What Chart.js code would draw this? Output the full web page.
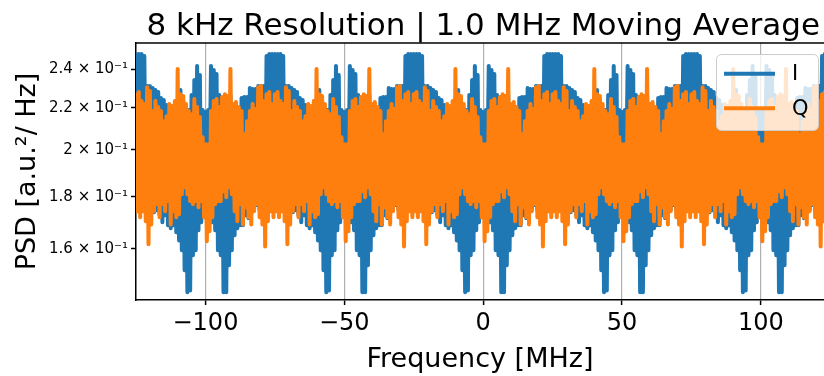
<!DOCTYPE html>
<html><head><meta charset="utf-8">
<script src="https://cdn.jsdelivr.net/npm/chart.js@4.4.1/dist/chart.umd.min.js"></script>
<style>html,body{margin:0;padding:0;background:#fff}canvas{display:block}</style>
</head><body>
<canvas id="c" width="824" height="376"></canvas>
<script>
const titleText = "8 kHz Resolution | 1.0 MHz Moving Average";
const xTitle = "Frequency [MHz]";
const yTitle = "PSD [a.u.²/ Hz]";
const seriesNames = ["I", "Q"];
const xTickValues = [-100, -50, 0, 50, 100];
const xTickLabels = ["−100", "−50", "0", "50", "100"];
const yTickValues = [0.16, 0.18, 0.20, 0.22, 0.24];
const yTickLabels = ["1.6 × 10⁻¹", "1.8 × 10⁻¹", "2 × 10⁻¹", "2.2 × 10⁻¹", "2.4 × 10⁻¹"];
const freqStartMHz = -125, freqStepMHz = 0.5;

const psdI = [
0.2483,0.1826,0.2483,0.1818,0.2483,0.1806,0.2471,0.1786,0.2310,0.1766,0.2310,0.1746,0.2299,0.1738,0.2289,0.1746,0.2279,0.1726,0.2248,0.1699,0.2238,0.1726,0.2213,0.1688,0.2188,0.1676,0.2178,0.1688,0.2198,0.1661,0.2238,0.1631,0.2289,0.1595,0.2238,0.1525,0.2163,0.1451,0.2188,0.1457,0.2263,0.1577,0.2341,0.1595,0.2416,0.1669,0.2368,0.1699,0.2188,0.1889,0.2178,0.1954,0.2188,0.1889,0.2416,0.1699,0.2395,0.1669,0.2373,0.1595,0.2263,0.1577,0.2188,0.1451,0.2163,0.1451,0.2238,0.1542,0.2263,0.1595,0.2213,0.1650,0.2188,0.1676,0.2198,0.1688,0.2248,0.1688,0.2253,0.1726,0.2253,0.1715,0.2299,0.1738,0.2294,0.1746,0.2294,0.1766,0.2310,0.1746,0.2310,0.1786,0.2310,0.1794,0.2471,0.1806,0.2483,0.1818,0.2483,0.1826,
0.2483,0.1826,0.2483,0.1818,0.2483,0.1806,0.2471,0.1786,0.2310,0.1766,0.2310,0.1746,0.2299,0.1738,0.2289,0.1746,0.2279,0.1726,0.2248,0.1699,0.2238,0.1726,0.2213,0.1688,0.2188,0.1676,0.2178,0.1688,0.2198,0.1661,0.2238,0.1631,0.2289,0.1595,0.2238,0.1525,0.2163,0.1451,0.2188,0.1457,0.2263,0.1577,0.2341,0.1595,0.2416,0.1669,0.2368,0.1699,0.2188,0.1889,0.2178,0.1954,0.2188,0.1889,0.2416,0.1699,0.2395,0.1669,0.2373,0.1595,0.2263,0.1577,0.2188,0.1451,0.2163,0.1451,0.2238,0.1542,0.2263,0.1595,0.2213,0.1650,0.2188,0.1676,0.2198,0.1688,0.2248,0.1688,0.2253,0.1726,0.2253,0.1715,0.2299,0.1738,0.2294,0.1746,0.2294,0.1766,0.2310,0.1746,0.2310,0.1786,0.2310,0.1794,0.2471,0.1806,0.2483,0.1818,0.2483,0.1826,
0.2483,0.1826,0.2483,0.1818,0.2483,0.1806,0.2471,0.1786,0.2310,0.1766,0.2310,0.1746,0.2299,0.1738,0.2289,0.1746,0.2279,0.1726,0.2248,0.1699,0.2238,0.1726,0.2213,0.1688,0.2188,0.1676,0.2178,0.1688,0.2198,0.1661,0.2238,0.1631,0.2289,0.1595,0.2238,0.1525,0.2163,0.1451,0.2188,0.1457,0.2263,0.1577,0.2341,0.1595,0.2416,0.1669,0.2368,0.1699,0.2188,0.1889,0.2178,0.1954,0.2188,0.1889,0.2416,0.1699,0.2395,0.1669,0.2373,0.1595,0.2263,0.1577,0.2188,0.1451,0.2163,0.1451,0.2238,0.1542,0.2263,0.1595,0.2213,0.1650,0.2188,0.1676,0.2198,0.1688,0.2248,0.1688,0.2253,0.1726,0.2253,0.1715,0.2299,0.1738,0.2294,0.1746,0.2294,0.1766,0.2310,0.1746,0.2310,0.1786,0.2310,0.1794,0.2471,0.1806,0.2483,0.1818,0.2483,0.1826,
0.2483,0.1826,0.2483,0.1818,0.2483,0.1806,0.2471,0.1786,0.2310,0.1766,0.2310,0.1746,0.2299,0.1738,0.2289,0.1746,0.2279,0.1726,0.2248,0.1699,0.2238,0.1726,0.2213,0.1688,0.2188,0.1676,0.2178,0.1688,0.2198,0.1661,0.2238,0.1631,0.2289,0.1595,0.2238,0.1525,0.2163,0.1451,0.2188,0.1457,0.2263,0.1577,0.2341,0.1595,0.2416,0.1669,0.2368,0.1699,0.2188,0.1889,0.2178,0.1954,0.2188,0.1889,0.2416,0.1699,0.2395,0.1669,0.2373,0.1595,0.2263,0.1577,0.2188,0.1451,0.2163,0.1451,0.2238,0.1542,0.2263,0.1595,0.2213,0.1650,0.2188,0.1676,0.2198,0.1688,0.2248,0.1688,0.2253,0.1726,0.2253,0.1715,0.2299,0.1738,0.2294,0.1746,0.2294,0.1766,0.2310,0.1746,0.2310,0.1786,0.2310,0.1794,0.2471,0.1806,0.2483,0.1818,0.2483,0.1826,
0.2483,0.1826,0.2483,0.1818,0.2483,0.1806,0.2471,0.1786,0.2310,0.1766,0.2310,0.1746,0.2299,0.1738,0.2289,0.1746,0.2279,0.1726,0.2248,0.1699,0.2238,0.1726,0.2213,0.1688,0.2188,0.1676,0.2178,0.1688,0.2198,0.1661,0.2238,0.1631,0.2289,0.1595,0.2238,0.1525,0.2163,0.1451,0.2188,0.1457,0.2263,0.1577,0.2341,0.1595,0.2416,0.1669,0.2368,0.1699,0.2188,0.1889,0.2178,0.1954,0.2188,0.1889,0.2416,0.1699,0.2395,0.1669,0.2373,0.1595,0.2263,0.1577,0.2188,0.1451,0.2163,0.1451,0.2238,0.1542,0.2263,0.1595,0.2213,0.1650,0.2188,0.1676,0.2198,0.1688,0.2248,0.1688,0.2253,0.1726,0.2253,0.1715,0.2299,0.1738,0.2294,0.1746,0.2294,0.1766,0.2310,0.1746,0.2310,0.1786,0.2310,0.1794,0.2471,0.1806,0.2483,0.1818,0.2483,0.1826
];

const psdQ = [
0.2268,0.1742,0.2279,0.1718,0.2233,0.1742,0.2218,0.1703,0.2304,0.1617,0.2284,0.1691,0.2183,0.1742,0.2233,0.1770,0.2203,0.1718,0.2183,0.1770,0.2134,0.1742,0.2158,0.1782,0.2218,0.1691,0.2208,0.1742,0.2233,0.1718,0.2400,0.1730,0.2268,0.1810,0.2258,0.1839,0.2218,0.1810,0.2183,0.1782,0.2168,0.1770,0.2243,0.1782,0.2203,0.1758,0.2154,0.1782,0.2058,0.1718,0.2026,0.1628,0.2026,0.1665,0.2183,0.1718,0.2233,0.1770,0.2243,0.1782,0.2203,0.1782,0.2253,0.1822,0.2268,0.1798,0.2258,0.1839,0.2400,0.1810,0.2218,0.1742,0.2228,0.1703,0.2203,0.1770,0.2183,0.1691,0.2072,0.1758,0.2134,0.1718,0.2183,0.1691,0.2218,0.1742,0.2193,0.1770,0.2304,0.1718,0.2310,0.1691,0.2233,0.1609,0.2268,0.1703,0.2279,0.1742,0.2218,0.1718,
0.2268,0.1742,0.2279,0.1718,0.2233,0.1742,0.2218,0.1703,0.2304,0.1617,0.2284,0.1691,0.2183,0.1742,0.2233,0.1770,0.2203,0.1718,0.2183,0.1770,0.2134,0.1742,0.2158,0.1782,0.2218,0.1691,0.2208,0.1742,0.2233,0.1718,0.2400,0.1730,0.2268,0.1810,0.2258,0.1839,0.2218,0.1810,0.2183,0.1782,0.2168,0.1770,0.2243,0.1782,0.2203,0.1758,0.2154,0.1782,0.2058,0.1718,0.2026,0.1628,0.2026,0.1665,0.2183,0.1718,0.2233,0.1770,0.2243,0.1782,0.2203,0.1782,0.2253,0.1822,0.2268,0.1798,0.2258,0.1839,0.2400,0.1810,0.2218,0.1742,0.2228,0.1703,0.2203,0.1770,0.2183,0.1691,0.2072,0.1758,0.2134,0.1718,0.2183,0.1691,0.2218,0.1742,0.2193,0.1770,0.2304,0.1718,0.2310,0.1691,0.2233,0.1609,0.2268,0.1703,0.2279,0.1742,0.2218,0.1718,
0.2268,0.1742,0.2279,0.1718,0.2233,0.1742,0.2218,0.1703,0.2304,0.1617,0.2284,0.1691,0.2183,0.1742,0.2233,0.1770,0.2203,0.1718,0.2183,0.1770,0.2134,0.1742,0.2158,0.1782,0.2218,0.1691,0.2208,0.1742,0.2233,0.1718,0.2400,0.1730,0.2268,0.1810,0.2258,0.1839,0.2218,0.1810,0.2183,0.1782,0.2168,0.1770,0.2243,0.1782,0.2203,0.1758,0.2154,0.1782,0.2058,0.1718,0.2026,0.1628,0.2026,0.1665,0.2183,0.1718,0.2233,0.1770,0.2243,0.1782,0.2203,0.1782,0.2253,0.1822,0.2268,0.1798,0.2258,0.1839,0.2400,0.1810,0.2218,0.1742,0.2228,0.1703,0.2203,0.1770,0.2183,0.1691,0.2072,0.1758,0.2134,0.1718,0.2183,0.1691,0.2218,0.1742,0.2193,0.1770,0.2304,0.1718,0.2310,0.1691,0.2233,0.1609,0.2268,0.1703,0.2279,0.1742,0.2218,0.1718,
0.2268,0.1742,0.2279,0.1718,0.2233,0.1742,0.2218,0.1703,0.2304,0.1617,0.2284,0.1691,0.2183,0.1742,0.2233,0.1770,0.2203,0.1718,0.2183,0.1770,0.2134,0.1742,0.2158,0.1782,0.2218,0.1691,0.2208,0.1742,0.2233,0.1718,0.2400,0.1730,0.2268,0.1810,0.2258,0.1839,0.2218,0.1810,0.2183,0.1782,0.2168,0.1770,0.2243,0.1782,0.2203,0.1758,0.2154,0.1782,0.2058,0.1718,0.2026,0.1628,0.2026,0.1665,0.2183,0.1718,0.2233,0.1770,0.2243,0.1782,0.2203,0.1782,0.2253,0.1822,0.2268,0.1798,0.2258,0.1839,0.2400,0.1810,0.2218,0.1742,0.2228,0.1703,0.2203,0.1770,0.2183,0.1691,0.2072,0.1758,0.2134,0.1718,0.2183,0.1691,0.2218,0.1742,0.2193,0.1770,0.2304,0.1718,0.2310,0.1691,0.2233,0.1609,0.2268,0.1703,0.2279,0.1742,0.2218,0.1718,
0.2268,0.1742,0.2279,0.1718,0.2233,0.1742,0.2218,0.1703,0.2304,0.1617,0.2284,0.1691,0.2183,0.1742,0.2233,0.1770,0.2203,0.1718,0.2183,0.1770,0.2134,0.1742,0.2158,0.1782,0.2218,0.1691,0.2208,0.1742,0.2233,0.1718,0.2400,0.1730,0.2268,0.1810,0.2258,0.1839,0.2218,0.1810,0.2183,0.1782,0.2168,0.1770,0.2243,0.1782,0.2203,0.1758,0.2154,0.1782,0.2058,0.1718,0.2026,0.1628,0.2026,0.1665,0.2183,0.1718,0.2233,0.1770,0.2243,0.1782,0.2203,0.1782,0.2253,0.1822,0.2268,0.1798,0.2258,0.1839,0.2400,0.1810,0.2218,0.1742,0.2228,0.1703,0.2203,0.1770,0.2183,0.1691,0.2072,0.1758,0.2134,0.1718,0.2183,0.1691,0.2218,0.1742,0.2193,0.1770,0.2304,0.1718,0.2310,0.1691,0.2233,0.1609,0.2268,0.1703,0.2279,0.1742,0.2218,0.1718
];

const freqMHz = psdI.map((_, k) => freqStartMHz + k * freqStepMHz);
const colors = ["#1f77b4", "#ff7f0e"];

Chart.defaults.font.family = '"DejaVu Sans", sans-serif';
Chart.defaults.color = '#000';

const framePlugin = {
  id: 'frame',
  afterDatasetsDraw(chart) {
    const ctx = chart.ctx, a = chart.chartArea;
    // legend box
    ctx.save();
    ctx.beginPath();
    ctx.roundRect(716.5, 54.5, 102, 76, 5);
    ctx.fillStyle = 'rgba(255,255,255,0.8)';
    ctx.fill();
    ctx.strokeStyle = '#cccccc';
    ctx.lineWidth = 1;
    ctx.stroke();
    const rows = [73.7, 108.3];
    seriesNames.forEach((name, i) => {
      ctx.beginPath();
      ctx.moveTo(724, rows[i]);
      ctx.lineTo(775, rows[i]);
      ctx.strokeStyle = colors[i];
      ctx.lineWidth = 4;
      ctx.lineCap = 'butt';
      ctx.stroke();
      ctx.fillStyle = '#000';
      ctx.font = '21px "DejaVu Sans"';
      ctx.textBaseline = 'middle';
      ctx.textAlign = 'left';
      ctx.fillText(name, 792, rows[i] + 1);
    });
    ctx.restore();
  },
  afterDraw(chart) {
    const ctx = chart.ctx, a = chart.chartArea;
    ctx.save();
    ctx.beginPath();
    ctx.moveTo(a.left - 0.75, a.top);
    ctx.lineTo(a.right, a.top);
    ctx.strokeStyle = '#000';
    ctx.lineWidth = 1.5;
    ctx.stroke();
    ctx.fillStyle = '#000';
    ctx.font = '31px "DejaVu Sans"';
    ctx.textAlign = 'center';
    ctx.textBaseline = 'alphabetic';
    ctx.fillText(titleText, chart.scales.x.getPixelForValue(0), 35);
    ctx.restore();
  }
};

new Chart(document.getElementById('c'), {
  type: 'line',
  data: {
    datasets: [
      { label: seriesNames[0], data: psdI.map((v, k) => ({x: freqMHz[k], y: v})), borderColor: colors[0],
        borderWidth: 4, pointRadius: 0, borderJoinStyle: 'round', borderCapStyle: 'round', tension: 0, order: 1, clip: 0 },
      { label: seriesNames[1], data: psdQ.map((v, k) => ({x: freqMHz[k], y: v})), borderColor: colors[1],
        borderWidth: 4, pointRadius: 0, borderJoinStyle: 'round', borderCapStyle: 'round', tension: 0, order: 0, clip: 0 }
    ]
  },
  options: {
    responsive: false,
    animation: false,
    devicePixelRatio: 1,
    layout: { padding: { top: 43, left: 0, right: 0, bottom: 0 } },
    plugins: { legend: { display: false }, title: { display: false }, tooltip: { enabled: false } },
    scales: {
      x: {
        type: 'linear', min: -125, max: 122.7,
        afterFit: s => { s.height = 76; },
        afterBuildTicks: s => { s.ticks = xTickValues.map(v => ({ value: v })); },
        ticks: { callback: (v, i) => xTickLabels[i], font: { size: 24 }, color: '#000', padding: 4, maxRotation: 0, autoSkip: false },
        grid: { color: '#b0b0b0', lineWidth: 1.2, drawTicks: true, tickLength: 5, tickColor: '#000', tickWidth: 1.5 },
        border: { display: true, color: '#000', width: 1.5 },
        title: { display: true, text: xTitle, font: { size: 27 }, color: '#000', padding: { top: 2, bottom: 0 } }
      },
      y: {
        type: 'logarithmic', min: 0.1426, max: 0.2545,
        afterFit: s => { s.width = 136; },
        afterBuildTicks: s => { s.ticks = yTickValues.map(v => ({ value: v })); },
        ticks: { callback: (v, i) => yTickLabels[i], font: { size: 15 }, color: '#000', padding: 3, autoSkip: false },
        grid: { drawOnChartArea: false, drawTicks: true, tickLength: 5, tickColor: '#000', tickWidth: 1.5 },
        border: { display: true, color: '#000', width: 1.5 },
        title: { display: true, text: yTitle, font: { size: 27 }, color: '#000', padding: { top: 12, bottom: 0 } }
      }
    }
  },
  plugins: [framePlugin]
});
</script>
</body></html>
